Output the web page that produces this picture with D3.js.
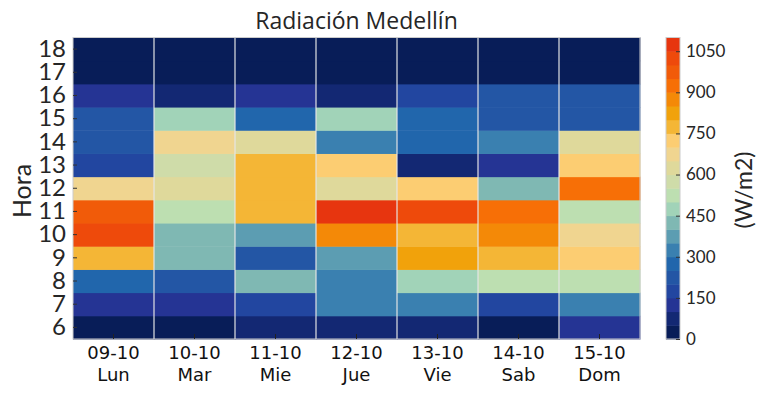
<!DOCTYPE html>
<html><head><meta charset="utf-8">
<script src="https://cdn.jsdelivr.net/npm/d3@7"></script>
<style>body{margin:0;background:#fff}svg{display:block;font-family:Lato,"DejaVu Sans",sans-serif}</style>
</head><body><svg id="c" width="767" height="395"></svg>
<script>
const dates = ["09-10","10-10","11-10","12-10","13-10","14-10","15-10"];
const days = ["Lun","Mar","Mie","Jue","Vie","Sab","Dom"];
const hours = [6,7,8,9,10,11,12,13,14,15,16,17,18];
// values by day, hours 6..18 (W/m2)
const lun = [25,125,275,775,1025,975,675,175,225,225,125,25,25];
const mar = [25,125,225,425,425,525,625,575,675,475,75,25,25];
const mie = [75,175,425,225,375,775,775,775,625,275,125,25,25];
const jue = [75,325,325,375,875,1075,625,725,325,475,75,25,25];
const vie = [75,325,475,825,775,1025,725,75,275,275,175,25,25];
const sab = [25,175,525,775,875,925,425,125,325,225,225,25,25];
const dom = [125,325,525,725,675,525,925,725,625,225,225,25,25];
const series = [lun,mar,mie,jue,vie,sab,dom];
const cbTicks = [0,150,300,450,600,750,900,1050];
const levelColors = ["#081d58","#132873","#253494","#2246a0","#2356a5","#2166ac","#3a80b0","#5c9db2","#7fb8b3","#a1d3b8","#bddfb1","#cfdca9","#dfd99b","#f0d590","#fccd72","#f4b636","#f1a20b","#f48907","#f76f06","#f15b09","#ee4a0b","#e7350f"];

const svg = d3.select("#c");
const L=73,R=640,T=37.5,B=339;
const x = d3.scaleBand().domain(dates).range([L,R]);
const y = d3.scaleBand().domain(hours.map(String)).range([B,T]);
const thresholds = d3.range(1,levelColors.length).map(i=>i*50);
const color = d3.scaleThreshold().domain(thresholds).range(levelColors);

const cells = [];
series.forEach((s,i)=>s.forEach((v,j)=>cells.push({d:dates[i],h:String(hours[j]),v})));
svg.append("g").selectAll("rect").data(cells).join("rect")
  .attr("x",d=>x(d.d)).attr("y",d=>y(d.h))
  .attr("width",x.bandwidth()+0.5).attr("height",y.bandwidth()+0.5)
  .attr("fill",d=>color(d.v));
// vertical separators
svg.append("g").selectAll("line").data(dates.slice(1)).join("line")
  .attr("x1",d=>x(d)).attr("x2",d=>x(d)).attr("y1",T).attr("y2",B)
  .attr("stroke","#e6e6e6").attr("stroke-width",1.3).attr("opacity",0.9);
svg.append("rect").attr("x",L).attr("y",T).attr("width",R-L).attr("height",B-T)
  .attr("fill","none").attr("stroke","#cccccc").attr("stroke-width",1);

// y axis
const ya = svg.append("g").attr("transform",`translate(${L},0)`)
  .call(d3.axisLeft(y).tickSize(-4).tickPadding(7));
ya.select(".domain").remove();
ya.selectAll("line").attr("stroke","#333");
ya.selectAll("text").attr("font-size",24).attr("fill","#262626").attr("font-family","Lato");

// x axis
const xa = svg.append("g").attr("transform",`translate(0,${B})`)
  .call(d3.axisBottom(x).tickSize(-5).tickFormat(""));
xa.select(".domain").remove();
xa.selectAll("line").attr("stroke","#222");
const xl = svg.append("g").attr("font-family","DejaVu Sans");
dates.forEach((d,i)=>{
  const cx = x(d)+x.bandwidth()/2;
  const t = xl.append("text").attr("text-anchor","middle").attr("font-size",18).attr("fill","#111");
  t.append("tspan").attr("x",cx).attr("y",359).text(d);
  t.append("tspan").attr("x",cx).attr("y",381).text(days[i]);
});

svg.append("text").attr("transform","translate(31,191) rotate(-90)").attr("text-anchor","middle")
  .attr("font-size",25).attr("fill","#262626").text("Hora");
svg.append("text").attr("x",(L+R)/2).attr("y",29).attr("text-anchor","middle")
  .attr("font-family","Open Sans").attr("font-size",23).attr("fill","#262626").text("Radiación Medellín");

// colorbar
const CL=666,CR=680;
const cy = d3.scaleLinear().domain([0,1100]).range([B,T]);
svg.append("g").selectAll("rect").data(levelColors).join("rect")
  .attr("x",CL).attr("width",CR-CL)
  .attr("y",(c,i)=>cy((i+1)*50)).attr("height",(c,i)=>cy(i*50)-cy((i+1)*50)+0.5)
  .attr("fill",c=>c);
svg.append("rect").attr("x",CL).attr("y",T).attr("width",CR-CL).attr("height",B-T)
  .attr("fill","none").attr("stroke","#cccccc");
const ca = svg.append("g").attr("transform",`translate(${CR},0)`)
  .call(d3.axisRight(cy).tickValues(cbTicks).tickFormat(d3.format("d")).tickSize(-4).tickPadding(6));
ca.select(".domain").remove();
ca.selectAll("line").attr("stroke","#333");
ca.selectAll("text").attr("font-size",17).attr("fill","#262626").attr("font-family","Lato");
svg.append("text").attr("transform","translate(752,190) rotate(-90)").attr("text-anchor","middle")
  .attr("font-size",23).attr("fill","#262626").text("(W/m2)");
</script></body></html>
